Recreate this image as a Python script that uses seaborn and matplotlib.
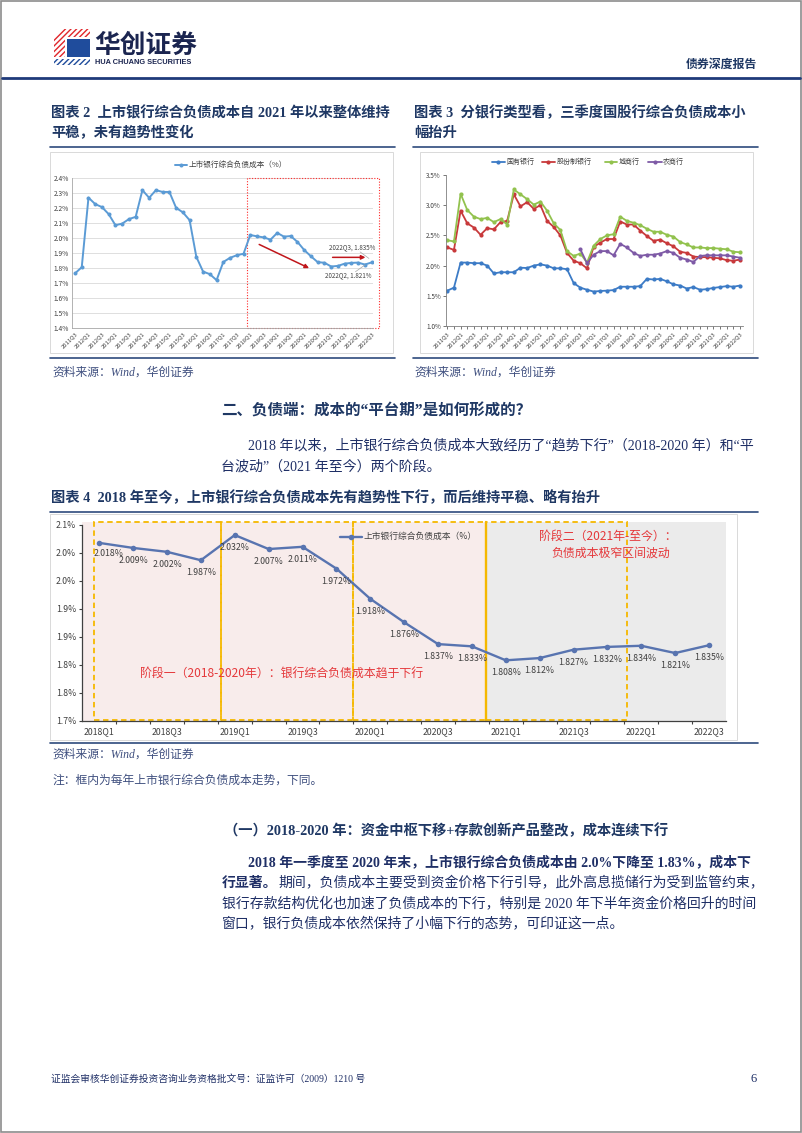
import numpy as np
import pandas as pd
import matplotlib
matplotlib.use("Agg")
import matplotlib.pyplot as plt
import seaborn as sns
from matplotlib.patches import Rectangle, Polygon
from matplotlib.lines import Line2D

# ---------------- data ----------------
quarter_ticks = ["2011Q3", "2012Q1", "2012Q3", "2013Q1", "2013Q3", "2014Q1", "2014Q3",
                 "2015Q1", "2015Q3", "2016Q1", "2016Q3", "2017Q1", "2017Q3", "2018Q1",
                 "2018Q3", "2019Q1", "2019Q3", "2020Q1", "2020Q3", "2021Q1", "2021Q3",
                 "2022Q1", "2022Q3"]

# 图表2: 上市银行综合负债成本 (%), 2011Q3-2022Q3
cost_all = [1.762, 1.803, 2.267, 2.224, 2.204, 2.157, 2.083, 2.094, 2.124, 2.139,
            2.317, 2.266, 2.317, 2.305, 2.305, 2.199, 2.169, 2.117, 1.872, 1.774,
            1.757, 1.717, 1.838, 1.866, 1.883, 1.893,
            2.018, 2.009, 2.002, 1.987, 2.032, 2.007, 2.011, 1.972, 1.918, 1.876,
            1.837, 1.833, 1.808, 1.812, 1.827, 1.832, 1.834, 1.821, 1.835]

# 图表3: 分银行类型综合负债成本 (%)
state_owned = [1.585, 1.635, 2.05, 2.05, 2.04, 2.04, 2.00, 1.87, 1.89, 1.89,
               1.89, 1.965, 1.96, 2.00, 2.02, 2.00, 1.955, 1.955, 1.94, 1.71,
               1.635, 1.60, 1.57, 1.58, 1.585, 1.595, 1.65, 1.65, 1.65, 1.66,
               1.78, 1.77, 1.78, 1.74, 1.69, 1.67, 1.62, 1.645, 1.60, 1.61,
               1.63, 1.645, 1.66, 1.65, 1.67]
joint_stock = [2.30, 2.26, 2.91, 2.70, 2.63, 2.51, 2.62, 2.60, 2.72, 2.74,
               3.18, 2.98, 3.05, 2.94, 3.00, 2.74, 2.64, 2.50, 2.21, 2.08,
               2.04, 1.955, 2.31, 2.38, 2.44, 2.44, 2.73, 2.68, 2.68, 2.58,
               2.49, 2.41, 2.43, 2.37, 2.32, 2.23, 2.21, 2.15, 2.14, 2.14,
               2.13, 2.12, 2.09, 2.08, 2.10]
city_banks = [2.42, 2.40, 3.19, 2.92, 2.81, 2.77, 2.79, 2.72, 2.77, 2.68,
              3.26, 3.18, 3.10, 3.01, 3.06, 2.91, 2.70, 2.59, 2.24, 2.16,
              2.20, 2.05, 2.33, 2.44, 2.50, 2.52, 2.81, 2.74, 2.71, 2.67,
              2.61, 2.56, 2.56, 2.51, 2.48, 2.39, 2.35, 2.30, 2.30, 2.29,
              2.29, 2.28, 2.27, 2.23, 2.22]
rural_banks = [np.nan, np.nan, np.nan, np.nan, np.nan, np.nan, np.nan, np.nan, np.nan, np.nan,
               np.nan, np.nan, np.nan, np.nan, np.nan, np.nan, np.nan, np.nan, np.nan, np.nan,
               2.27, 2.04, 2.18, 2.24, 2.24, 2.17, 2.36, 2.30, 2.21, 2.16,
               2.18, 2.18, 2.20, 2.24, 2.21, 2.13, 2.10, 2.06, 2.16, 2.17,
               2.17, 2.17, 2.17, 2.15, 2.13]
bank_types = ["国有银行", "股份制银行", "城商行", "农商行"]

# 图表4: 2018Q1-2022Q3
cost_recent = [2.018, 2.009, 2.002, 1.987, 2.032, 2.007, 2.011, 1.972, 1.918, 1.876,
               1.837, 1.833, 1.808, 1.812, 1.827, 1.832, 1.834, 1.821, 1.835]
recent_ticks = ["2018Q1", "2018Q3", "2019Q1", "2019Q3", "2020Q1", "2020Q3",
                "2021Q1", "2021Q3", "2022Q1", "2022Q3"]

c2_ylabels = ["1.4%", "1.5%", "1.6%", "1.7%", "1.8%", "1.9%", "2.0%", "2.1%", "2.2%", "2.3%", "2.4%"]
c3_ylabels = ["1.0%", "1.5%", "2.0%", "2.5%", "3.0%", "3.5%"]
c4_ylabels = ["1.7%", "1.8%", "1.8%", "1.9%", "1.9%", "2.0%", "2.0%", "2.1%"]

# ---------------- setup ----------------
W, H = 802, 1133
sns.set_style("white")
plt.rcParams['font.family'] = ['Noto Sans CJK SC', 'DejaVu Sans']
plt.rcParams['axes.unicode_minus'] = False
plt.rcParams['hatch.linewidth'] = 1.0

fig = plt.figure(figsize=(W / 100, H / 100), dpi=100)
fig.patch.set_facecolor('white')

NAVY = '#1F3864'
BODY = '#1F2F66'
SRC = '#3F4F7F'
SERIF = ['Liberation Serif', 'Noto Sans CJK SC']


def rect(x0, y0, x1, y1):
    return [x0 / W, 1 - y1 / H, (x1 - x0) / W, (y1 - y0) / H]


def T(x, y, s, **kw):
    kw.setdefault('va', 'center')
    kw.setdefault('ha', 'left')
    return fig.text(x / W, 1 - y / H, s, **kw)


def HL(x0, x1, y, color, lw):
    fig.add_artist(Line2D([x0 / W, x1 / W], [1 - y / H, 1 - y / H], color=color, lw=lw))


def BOX(x0, y0, x1, y1, ec='#D9D9D9', lw=0.7):
    fig.add_artist(Rectangle((x0 / W, 1 - y1 / H), (x1 - x0) / W, (y1 - y0) / H,
                             transform=fig.transFigure, fill=False, ec=ec, lw=lw))


def PX(pts):
    return [(x / W, 1 - y / H) for x, y in pts]


# page border
fig.add_artist(Rectangle((0.001, 0.001), 0.998, 0.998, transform=fig.transFigure,
                         fill=False, ec='#8C8C8C', lw=1.2))

# ---------------- header ----------------
fig.add_artist(Polygon(PX([(54, 37), (62, 29), (90, 29), (90, 37), (65, 37), (65, 57), (54, 57)]),
                       closed=True, transform=fig.transFigure, fc='white', ec='#E0262B',
                       hatch='//////', lw=0))
fig.add_artist(Polygon(PX([(67, 39), (90, 39), (90, 57), (67, 57)]), closed=True,
                       transform=fig.transFigure, fc='#1F4C9C', ec='#1F4C9C', lw=0))
fig.add_artist(Polygon(PX([(54, 58.5), (90, 58.5), (90, 65), (54, 65)]), closed=True,
                       transform=fig.transFigure, fc='white', ec='#1F4C9C', hatch='//////', lw=0))
T(94, 45, "华创证券", fontsize=18.5, fontweight='bold', color='#1B2550')
T(95, 62, "HUA CHUANG SECURITIES", fontsize=5.3, fontweight='bold', color='#1B2550',
  family=['Liberation Sans', 'DejaVu Sans'])
T(757, 64, "债券深度报告", fontsize=8.6, fontweight='bold', color=NAVY, ha='right')
HL(2, 800, 77.5, '#1F3A7A', 2.0)

# ---------------- titles row 1 ----------------
T(51, 113, "图表 2  上市银行综合负债成本自 2021 年以来整体维持", fontsize=10.3, fontweight='bold',
  color=NAVY, family=SERIF)
T(51, 133, "平稳，未有趋势性变化", fontsize=10.3, fontweight='bold', color=NAVY, family=SERIF)
T(414, 113, "图表 3  分银行类型看，三季度国股行综合负债成本小", fontsize=10.3, fontweight='bold',
  color=NAVY, family=SERIF)
T(414, 133, "幅抬升", fontsize=10.3, fontweight='bold', color=NAVY, family=SERIF)

# frames
for (a, b) in [(50, 395), (413, 758)]:
    HL(a, b, 146.7, '#2E4A7D', 1.2)
    HL(a, b, 358.3, '#2E4A7D', 1.2)
BOX(50, 152, 393, 352.5)
BOX(420, 152, 753, 353)

# ---------------- chart 2 ----------------
ax2 = fig.add_axes(rect(72.3, 177.7, 373.3, 327.7))
x2 = np.arange(len(cost_all))
sns.lineplot(x=x2, y=cost_all, ax=ax2, color='#5B9BD5', lw=1.4, marker='o',
             markersize=2.9, markeredgewidth=0)
ax2.set_xlim(-0.4, 44.25)
ax2.set_ylim(1.4, 2.4)
ax2.set_yticks([float(s.rstrip('%')) for s in c2_ylabels])
ax2.set_yticklabels(c2_ylabels)
ax2.set_xticks(x2[::2])
ax2.set_xticklabels(quarter_ticks, rotation=45, ha='right', rotation_mode='anchor')
ax2.tick_params(axis='x', labelsize=4.2, length=0, pad=2.5, colors='#404040')
ax2.tick_params(axis='y', labelsize=4.8, length=0, pad=2.5, colors='#404040')
ax2.yaxis.grid(True, color='#D9D9D9', lw=0.6)
ax2.set_axisbelow(True)
for s in ['top', 'right']:
    ax2.spines[s].set_visible(False)
ax2.spines['left'].set_color('#A6A6A6')
ax2.spines['bottom'].set_color('#A6A6A6')
ax2.spines['left'].set_linewidth(0.6)
ax2.spines['bottom'].set_linewidth(0.6)
ax2.set_xlabel('')
ax2.set_ylabel('')
ax2.add_patch(Rectangle((25.46, 1.4), 45.08 - 25.46, 1.0, fill=False, ec='#FF2A2A',
                        ls=(0, (1, 1.5)), lw=0.8, clip_on=False))
ax2.annotate('', xy=(35.1, 1.789), xytext=(26.95, 1.963),
             arrowprops=dict(arrowstyle='-|>', color='#C0161B', lw=1.1, mutation_scale=6))
ax2.annotate('', xy=(43.5, 1.869), xytext=(37.8, 1.869),
             arrowprops=dict(arrowstyle='-|>', color='#C0161B', lw=1.1, mutation_scale=6))
ax2.text(41.15, 1.936, "2022Q3, 1.835%", fontsize=4.5, ha='center', va='center', color='#404040')
ax2.plot([42.3, 43.6], [1.905, 1.862], color='#A6A6A6', lw=0.5)
ax2.text(40.6, 1.751, "2022Q2, 1.821%", fontsize=4.5, ha='center', va='center', color='#404040')
ax2.plot([41.6, 43.0], [1.773, 1.818], color='#A6A6A6', lw=0.5)
# legend
fig.add_artist(Line2D([175 / W, 187 / W], [1 - 165 / H] * 2, color='#5B9BD5', lw=1.4))
fig.add_artist(Line2D([181 / W], [1 - 165 / H], color='#5B9BD5', marker='o', markersize=2.9,
                      markeredgewidth=0))
T(189, 165, "上市银行综合负债成本（%）", fontsize=5.5, color='#404040')

# ---------------- chart 3 ----------------
ax3 = fig.add_axes(rect(445.7, 175, 743.3, 326))
x3 = np.arange(len(state_owned))
df3 = pd.DataFrame({"idx": x3, bank_types[0]: state_owned, bank_types[1]: joint_stock,
                    bank_types[2]: city_banks, bank_types[3]: rural_banks})
long3 = df3.melt(id_vars="idx", var_name="type", value_name="val").dropna()
pal3 = dict(zip(bank_types, ['#3C7BC6', '#C8393B', '#92C24E', '#7E5AA6']))
sns.lineplot(data=long3, x="idx", y="val", hue="type", hue_order=bank_types, palette=pal3,
             ax=ax3, lw=1.3, marker='o', markersize=3.0, markeredgewidth=0, legend=False)
ax3.set_xlim(-0.24, 44.5)
ax3.set_ylim(1.0, 3.5)
ax3.set_yticks([float(s.rstrip('%')) for s in c3_ylabels])
ax3.set_yticklabels(c3_ylabels)
ax3.set_xticks(x3[::2])
ax3.set_xticks(x3, minor=True)
ax3.set_xticklabels(quarter_ticks, rotation=45, ha='right', rotation_mode='anchor')
ax3.tick_params(axis='x', which='both', labelsize=4.2, length=2, width=0.5, pad=1.5,
                colors='#404040', direction='out', bottom=True)
ax3.tick_params(axis='y', labelsize=4.6, length=2, width=0.5, pad=1.5, colors='#404040',
                direction='out', left=True)
for s in ['top', 'right']:
    ax3.spines[s].set_visible(False)
for s in ['left', 'bottom']:
    ax3.spines[s].set_color('#7F7F7F')
    ax3.spines[s].set_linewidth(0.6)
ax3.set_xlabel('')
ax3.set_ylabel('')
leg3 = [(491.7, 505, 506.5), (541.7, 555, 556.5), (605, 617.3, 619), (648, 661.7, 663.3)]
for (a, b, tx), name in zip(leg3, bank_types):
    c = pal3[name]
    fig.add_artist(Line2D([a / W, b / W], [1 - 161.7 / H] * 2, color=c, lw=1.3))
    fig.add_artist(Line2D([(a + b) / 2 / W], [1 - 161.7 / H], color=c, marker='o',
                          markersize=3.0, markeredgewidth=0))
    T(tx, 161.7, name, fontsize=5.0, color='#404040', family=SERIF)

# sources
T(52, 372.7, "资料来源：Wind，华创证券", fontsize=8.5, style='italic', color=SRC, family=SERIF)
T(414, 372.7, "资料来源：Wind，华创证券", fontsize=8.5, style='italic', color=SRC, family=SERIF)

# ---------------- section text ----------------
T(221, 411.7, "二、负债端：成本的“平台期”是如何形成的？", fontsize=11.2, fontweight='bold',
  color=NAVY, family=SERIF)
T(248, 445, "2018 年以来，上市银行综合负债成本大致经历了“趋势下行”（2018-2020 年）和“平",
  fontsize=10.1, color=BODY, family=SERIF)
T(221, 467, "台波动”（2021 年至今）两个阶段。", fontsize=10.1, color=BODY, family=SERIF)
T(51, 497.3, "图表 4  2018 年至今，上市银行综合负债成本先有趋势性下行，而后维持平稳、略有抬升",
  fontsize=10.3, fontweight='bold', color=NAVY, family=SERIF)

# ---------------- chart 4 ----------------
HL(50, 758, 511.7, '#2E4A7D', 1.2)
HL(50, 758, 743.3, '#2E4A7D', 1.2)
BOX(50, 514, 737, 740)
ax4 = fig.add_axes(rect(82.3, 525, 726, 720.7))
x4 = np.arange(len(cost_recent))
top = 2.0559
ax4.add_patch(Rectangle((-0.5, 1.70), 11.42 + 0.5, top - 1.70, fc='#F8ECEB', ec='none',
                        zorder=0, clip_on=False))
ax4.add_patch(Rectangle((11.42, 1.70), 18.5 - 11.42, top - 1.70, fc='#EBEBEB', ec='none',
                        zorder=0, clip_on=False))
for a, b in [(-0.15, 3.6), (3.6, 7.48), (7.48, 11.42), (11.42, 15.57)]:
    ax4.add_patch(Rectangle((a, 1.7015), b - a, top - 1.7015, fill=False, ec='#F5B800',
                            ls=(0, (3, 2)), lw=1.3, zorder=1, clip_on=False))
ax4.plot([11.42, 11.42], [1.70, top], color='#F5B800', lw=1.7, zorder=1, clip_on=False)
sns.lineplot(x=x4, y=cost_recent, ax=ax4, color='#5874B0', lw=1.7, marker='o',
             markersize=4.0, markeredgewidth=0, zorder=3)
ax4.set_xlim(-0.5, 18.5)
ax4.set_ylim(1.70, 2.05)
ax4.set_facecolor('none')
ax4.set_yticks(np.linspace(1.70, 2.05, len(c4_ylabels)))
ax4.set_yticklabels(c4_ylabels)
ax4.set_xticks(x4[::2])
ax4.set_xticklabels(recent_ticks)
ax4.set_xticks(x4[:-1] + 0.5, minor=True)
ax4.tick_params(axis='x', which='major', length=0, labelsize=6.3, pad=4.5, colors='#404040')
ax4.tick_params(axis='x', which='minor', length=2.5, width=0.8, direction='out',
                color='#404040', bottom=True)
ax4.tick_params(axis='y', length=2.5, width=0.8, direction='out', labelsize=6.3, pad=2,
                colors='#404040', left=True)
for s in ['top', 'right']:
    ax4.spines[s].set_visible(False)
for s in ['left', 'bottom']:
    ax4.spines[s].set_color('#404040')
    ax4.spines[s].set_linewidth(0.9)
    ax4.spines[s].set_zorder(4)
ax4.set_xlabel('')
ax4.set_ylabel('')
for i, v in enumerate(cost_recent):
    off = (7, -7.3) if i == 0 else (0, -9)
    ax4.annotate(f"{v:.3f}%", (i, v), xytext=off, textcoords='offset points',
                 ha='center', va='center', fontsize=6.3, color='#404040', zorder=5)
ax4.text(1.2, 1.783, "阶段一（2018-2020年）：银行综合负债成本趋于下行", fontsize=8.6,
         color='#E5383B', ha='left', va='center', zorder=5)
ax4.text(15.0, 2.0295, "阶段二（2021年-至今）：", fontsize=8.6, color='#E5383B',
         ha='center', va='center', zorder=5)
ax4.text(15.1, 2.0, "负债成本极窄区间波动", fontsize=8.6, color='#E5383B',
         ha='center', va='center', zorder=5)
fig.add_artist(Line2D([340 / W, 362 / W], [1 - 536.7 / H] * 2, color='#5874B0', lw=1.7))
fig.add_artist(Line2D([351 / W], [1 - 536.7 / H], color='#5874B0', marker='o', markersize=4.0,
                      markeredgewidth=0))
T(363, 536.7, "上市银行综合负债成本（%）", fontsize=6.3, color='#404040')

T(52, 755, "资料来源：Wind，华创证券", fontsize=8.5, style='italic', color=SRC, family=SERIF)
T(52, 780.7, "注：框内为每年上市银行综合负债成本走势，下同。", fontsize=8.5, style='italic',
  color=SRC, family=SERIF)

# ---------------- body text ----------------
T(224, 831, "（一）2018-2020 年：资金中枢下移+存款创新产品整改，成本连续下行", fontsize=10.3,
  fontweight='bold', color=NAVY, family=SERIF)
T(248, 862.7, "2018 年一季度至 2020 年末，上市银行综合负债成本由 2.0%下降至 1.83%，成本下",
  fontsize=10, fontweight='bold', color=BODY, family=SERIF)
t_b = T(222, 883.3, "行显著。", fontsize=10, fontweight='bold', color=BODY, family=SERIF)
renderer = fig.canvas.get_renderer()
bb = t_b.get_window_extent(renderer=renderer)
x_next = bb.x1 + 1
T(x_next, 883.3, "期间，负债成本主要受到资金价格下行引导，此外高息揽储行为受到监管约束，",
  fontsize=10, color=BODY, family=SERIF)
T(222, 904, "银行存款结构优化也加速了负债成本的下行，特别是 2020 年下半年资金价格回升的时间",
  fontsize=10, color=BODY, family=SERIF)
T(222, 924.3, "窗口，银行负债成本依然保持了小幅下行的态势，可印证这一点。",
  fontsize=10, color=BODY, family=SERIF)

# footer
T(51, 1079.3, "证监会审核华创证券投资咨询业务资格批文号：证监许可（2009）1210 号",
  fontsize=7.0, color=BODY, family=SERIF)
T(757, 1079.3, "6", fontsize=9, color=BODY, family=SERIF, ha='right')

fig.savefig("out.png", dpi=100, facecolor='white')
